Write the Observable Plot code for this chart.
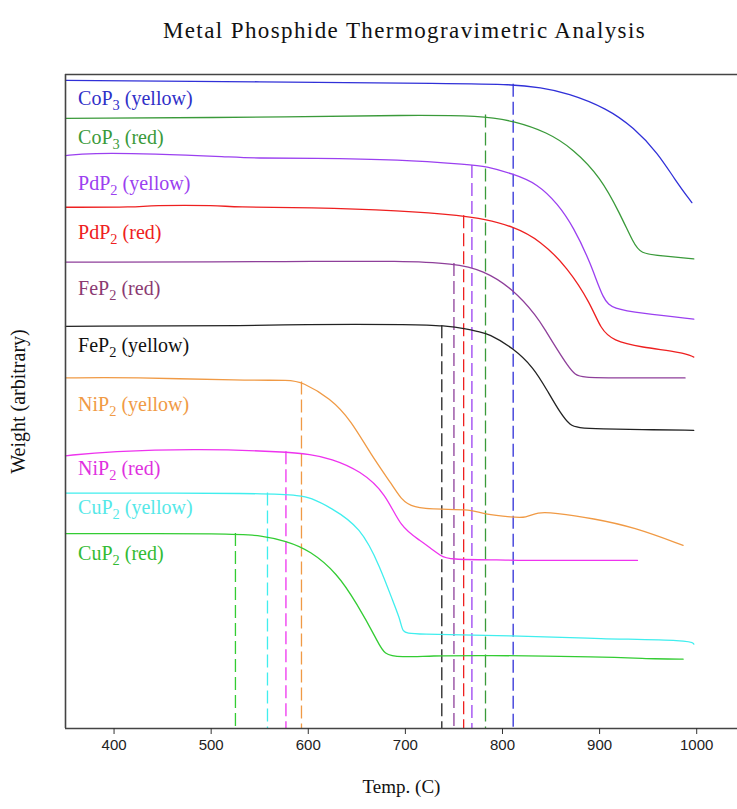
<!DOCTYPE html>
<html><head><meta charset="utf-8">
<script src="https://cdn.jsdelivr.net/npm/d3@7"></script>
<script src="https://cdn.jsdelivr.net/npm/@observablehq/plot@0.6"></script>
<style>
body{margin:0;background:#fff;}
#title{box-sizing:border-box;font-family:"Liberation Serif",serif;font-size:23px;letter-spacing:1.4px;height:50px;line-height:24px;padding-top:19px;padding-left:72px;width:737px;text-align:center;color:#111;}
</style></head><body>
<div id="title">Metal Phosphide Thermogravimetric Analysis</div>
<div id="chart"></div>
<script>
// Series names (legend labels) and colours
const names = ["CoP3 (yellow)","CoP3 (red)","PdP2 (yellow)","PdP2 (red)","FeP2 (red)","FeP2 (yellow)","NiP2 (yellow)","NiP2 (red)","CuP2 (yellow)","CuP2 (red)"];
const lineColors = ["#3030d8","#3a9a3a","#9b40f0","#ee2020","#8e3f9a","#222222","#f09a45","#ee33ee","#40eeee","#33cc33"];
const labelColors = ["#3030c8","#3a9a3a","#9b40f0","#ee2020","#8b3a72","#111111","#f09a45","#e030e0","#55e8e8","#33bb33"];

// TGA curves: [temperature (C), weight (arbitrary)]
const coP3Yellow = [[350,99.1],[550,98.9],[750,98.6],[811,98.5],[839,98.0],[867,97.2],[908,94.8],[935,91.9],[960,88.0],[978,83.8],[995,80.4]];
const coP3Red = [[350,93.3],[602,93.5],[695,93.8],[780,93.7],[811,92.9],[846,91.2],[873,88.6],[901,84.3],[921,78.7],[935,74.2],[942,72.6],[963,72.3],[997,71.8]];
const pdP2Yellow = [[350,87.6],[375,88.0],[440,87.9],[520,87.4],[545,87.2],[602,87.2],[695,87.0],[767,86.2],[782,86.0],[811,84.8],[836,83.3],[857,80.2],[873,76.7],[891,71.1],[904,65.4],[914,64.2],[942,63.5],[997,62.6]];
const pdP2Red = [[350,79.7],[425,79.7],[435,80.0],[510,80.0],[520,79.7],[602,79.7],[695,79.2],[760,78.4],[780,77.9],[811,76.8],[839,74.6],[867,70.5],[891,64.9],[901,61.1],[914,59.3],[942,58.3],[986,57.5],[997,56.8]];
const feP2Red = [[350,71.3],[602,71.4],[695,71.5],[750,71.1],[780,70.1],[811,67.2],[836,62.9],[844,60.9],[857,57.8],[867,55.5],[875,54.0],[883,53.7],[913,53.6],[988,53.6]];
const feP2Yellow = [[350,61.5],[560,61.6],[580,61.8],[716,61.8],[738,61.6],[764,61.1],[777,60.6],[785,60.4],[811,58.2],[832,55.2],[846,51.7],[860,48.1],[870,46.3],[877,46.0],[901,45.8],[942,45.7],[997,45.6]];
const niP2Yellow = [[350,53.6],[417,53.7],[535,53.2],[582,53.3],[593,53.0],[623,50.5],[644,47.1],[664,42.0],[688,36.9],[695,35.2],[707,33.7],[738,33.5],[767,33.5],[780,32.8],[811,32.3],[824,32.2],[836,33.1],[853,33.0],[894,32.1],[935,30.8],[986,28.0]];
const niP2Red = [[350,41.7],[395,42.4],[489,42.8],[577,42.3],[602,41.9],[623,41.3],[654,39.4],[680,35.9],[695,30.7],[716,28.7],[729,27.2],[736,26.5],[743,25.8],[803,25.8],[808,25.7],[939,25.7]];
const cuP2Yellow = [[350,36.0],[558,36.0],[592,35.6],[602,35.3],[623,33.8],[654,30.8],[674,24.7],[688,19.1],[695,16.5],[697,14.7],[705,14.4],[811,14.2],[901,13.7],[994,13.5],[997,12.9]];
const cuP2Red = [[350,29.8],[525,29.8],[551,29.5],[577,28.7],[602,27.2],[630,23.7],[650,19.1],[671,13.5],[678,11.2],[695,10.9],[726,11.1],[777,11.2],[901,11.0],[963,10.6],[986,10.6]];
const curves = [coP3Yellow,coP3Red,pdP2Yellow,pdP2Red,feP2Red,feP2Yellow,niP2Yellow,niP2Red,cuP2Yellow,cuP2Red];

// Onset temperatures (dashed markers) and weight at onset
const onsetT = [811,782.5,768.5,760,750,737.5,593,577,558,525];
const onsetW = [98.5,93.8,86.1,78.4,71.1,61.6,53.0,42.3,36.0,29.8];

// Legend label anchor (weight units) for each series
const labelW = [96.3,90.4,83.3,75.8,67.2,58.6,49.6,39.7,33.8,26.7];
const xTicks = [400,500,600,700,800,900,1000];

const rows = curves.flatMap((c,i) => c.map(([t,w]) => ({name:names[i], t, w})));
const onsets = names.map((name,i) => ({name, t:onsetT[i], w:onsetW[i]}));
const labels = names.map((name,i) => ({name, w:labelW[i], col:labelColors[i]}));

const LABEL_SIZE = 20;
const chart = Plot.plot({
  width:737, height:759,
  marginTop:24, marginBottom:81, marginLeft:65, marginRight:0,
  style:{fontFamily:"Liberation Serif", background:"#fff"},
  x:{domain:[350,1042]},
  y:{domain:[0,100], axis:null},
  color:{domain:names, range:lineColors},
  marks:[
    Plot.ruleX(onsets,{x:"t", y1:"w", y2:0, stroke:"name", strokeWidth:1.3, strokeDasharray:"13,5"}),
    Plot.line(rows,{x:"t", y:"w", z:"name", stroke:"name", strokeWidth:1.3, curve:"basis"}),
    Plot.text(labels,{x:363, y:"w", text:"name", fill:"col", textAnchor:"start", fontSize:LABEL_SIZE, fontFamily:"Liberation Serif"}),
    Plot.ruleY([100],{stroke:"#444", strokeWidth:1.6}),
    Plot.ruleY([0],{stroke:"#444", strokeWidth:1.6}),
    Plot.ruleX([350],{stroke:"#444", strokeWidth:1.6}),
    Plot.axisX({ticks:xTicks, tickSize:6, tickPadding:5, tickFormat:d=>String(d), label:null, fontSize:15, fontFamily:"Liberation Sans", stroke:"#333", fill:"#222"}),
    Plot.text(["Temp. (C)"],{frameAnchor:"bottom", dy:64, fontSize:19, fontFamily:"Liberation Serif", fill:"#111"}),
    Plot.text(["Weight (arbitrary)"],{frameAnchor:"left", textAnchor:"middle", dx:-47, rotate:-90, fontSize:20, fontFamily:"Liberation Serif", fill:"#111"})
  ]
});
// Render the formula digits as subscripts (kept as real text)
const SVGNS = "http://www.w3.org/2000/svg";
chart.querySelectorAll("text").forEach(t => {
  const s = t.textContent;
  if (!names.includes(s)) return;
  const m = s.match(/^([A-Za-z]+)(\d)(.*)$/);
  if (!m) return;
  t.textContent = "";
  t.appendChild(document.createTextNode(m[1]));
  const sub = document.createElementNS(SVGNS, "tspan");
  sub.setAttribute("dy", "5");
  sub.setAttribute("font-size", String(LABEL_SIZE * 0.72));
  sub.textContent = m[2];
  t.appendChild(sub);
  const rest = document.createElementNS(SVGNS, "tspan");
  rest.setAttribute("dy", "-5");
  rest.textContent = m[3];
  t.appendChild(rest);
});
document.getElementById("chart").appendChild(chart);
</script></body></html>
